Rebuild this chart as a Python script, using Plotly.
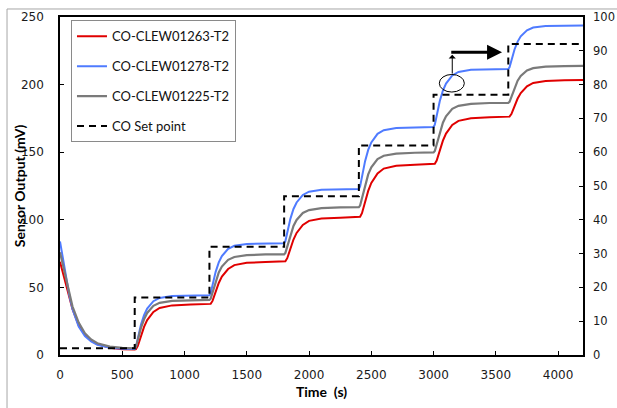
import plotly.graph_objects as go

# ---------------- data ----------------
time_s = [0, 25, 50, 75, 100, 150, 200, 250, 300, 400, 500, 600,
          610, 625, 650, 675, 700, 750, 800, 900, 1050, 1200,
          1210, 1225, 1250, 1275, 1300, 1350, 1400, 1500, 1650, 1800,
          1810, 1825, 1850, 1875, 1900, 1950, 2000, 2100, 2250, 2400,
          2410, 2425, 2450, 2475, 2500, 2550, 2600, 2700, 2850, 3000,
          3010, 3025, 3050, 3075, 3100, 3150, 3200, 3300, 3450, 3600,
          3610, 3625, 3650, 3675, 3700, 3750, 3800, 3900, 4050, 4200]

red_mv = [69, 60, 51, 42, 34, 22, 15, 10.5, 8, 5.3, 4.3, 4.0,
          4.3, 6.7, 14.1, 20.8, 25.8, 31.8, 34.8, 36.7, 37.3, 37.5,
          37.8, 40.0, 47.0, 53.3, 58.0, 63.6, 66.5, 68.2, 68.8, 69.0,
          69.3, 71.6, 78.8, 85.4, 90.3, 96.2, 99.2, 101.0, 101.6, 101.8,
          102.2, 104.9, 113.6, 121.4, 127.3, 134.3, 137.9, 140.0, 140.8, 141.0,
          141.4, 143.8, 151.5, 158.5, 163.8, 170.1, 173.2, 175.1, 175.8, 176.0,
          176.3, 178.2, 184.2, 189.7, 193.8, 198.7, 201.2, 202.7, 203.3, 203.4]

blue_mv = [84, 70, 56, 44, 34, 21, 14, 10, 7.5, 5.3, 4.7, 4.5,
           6.1, 12.4, 22.4, 29.5, 34.3, 39.8, 42.2, 43.6, 44.1, 44.2,
           45.7, 51.9, 61.5, 68.5, 73.1, 78.5, 80.8, 82.1, 82.6, 82.7,
           84.3, 90.7, 100.7, 108.0, 112.8, 118.4, 120.8, 122.2, 122.7, 122.8,
           124.6, 132.0, 143.4, 151.7, 157.2, 163.6, 166.3, 167.9, 168.4, 168.6,
           170.3, 177.2, 187.9, 195.6, 200.8, 206.8, 209.4, 210.9, 211.3, 211.5,
           212.8, 218.0, 226.0, 231.8, 235.7, 240.2, 242.2, 243.3, 243.7, 243.8]

gray_mv = [76, 66, 55, 45, 36, 24, 16, 11.5, 8.7, 6.2, 5.3, 5.0,
           6.1, 11.1, 20.0, 26.4, 31.1, 36.4, 38.6, 40.0, 40.6, 40.7,
           41.7, 46.4, 54.9, 61.0, 65.4, 70.4, 72.5, 73.8, 74.4, 74.5,
           75.5, 80.4, 89.1, 95.4, 99.9, 105.1, 107.2, 108.6, 109.2, 109.3,
           110.5, 116.2, 126.3, 133.6, 138.9, 144.9, 147.4, 149.0, 149.6, 149.8,
           150.9, 156.0, 165.2, 171.8, 176.6, 182.1, 184.3, 185.8, 186.4, 186.5,
           187.3, 191.1, 198.0, 202.9, 206.4, 210.5, 212.2, 213.3, 213.7, 213.8]

setpoint_t = [0, 600, 1200, 1800, 2400, 3000, 3600, 4200]
setpoint_ppm = [2, 17, 32, 47, 62, 77, 92, 92]

series_names = ["CO-CLEW01263-T2", "CO-CLEW01278-T2", "CO-CLEW01225-T2", "CO Set point"]
x_ticks = [0, 500, 1000, 1500, 2000, 2500, 3000, 3500, 4000]
y_ticks = [0, 50, 100, 150, 200, 250]
y2_ticks = [0, 10, 20, 30, 40, 50, 60, 70, 80, 90, 100]

# ---------------- figure ----------------
TICK_FONT = dict(family="DejaVu Sans", size=12, color="#1a1a1a")
LEG_FONT = dict(family="Lato", size=13, color="#111111")

fig = go.Figure()
fig.add_trace(go.Scatter(x=time_s, y=red_mv, name=series_names[0], mode="lines",
                         line=dict(color="#e00000", width=2), legendgroup="a"))
fig.add_trace(go.Scatter(x=time_s, y=blue_mv, name=series_names[1], mode="lines",
                         line=dict(color="#4f7bff", width=2), legendgroup="b"))
fig.add_trace(go.Scatter(x=time_s, y=gray_mv, name=series_names[2], mode="lines",
                         line=dict(color="#7a7a7a", width=2.2), legendgroup="c"))
fig.add_trace(go.Scatter(x=setpoint_t, y=setpoint_ppm, name=series_names[3], mode="lines",
                         line=dict(color="black", width=2, dash="7px,5px", shape="hv"),
                         yaxis="y2", legendgroup="d"))

axis_common = dict(showgrid=False, zeroline=False, showline=True, linecolor="black",
                   linewidth=1.5, ticks="inside", ticklen=4, tickcolor="black",
                   automargin=False)

fig.update_layout(
    width=617, height=408,
    margin=dict(l=60, r=34, t=17, b=53),
    paper_bgcolor="white", plot_bgcolor="white",
    xaxis=dict(range=[0, 4200], tickvals=x_ticks, mirror=True,
               ticklabelstandoff=8, tickfont=TICK_FONT,
               title=dict(text="Time\u00a0\u00a0(s)",
                          font=dict(family="Lato", size=14, color="black", weight="bold"),
                          standoff=6),
               **axis_common),
    yaxis=dict(range=[0, 250], tickvals=y_ticks, ticklabelstandoff=12,
               tickfont=TICK_FONT, **axis_common),
    yaxis2=dict(range=[0, 100], tickvals=y2_ticks, overlaying="y", side="right",
                ticklabelstandoff=6,
                tickfont=dict(family="DejaVu Sans", size=11.5, color="#1a1a1a"),
                **axis_common),
    showlegend=True,
    legend=dict(x=0.021, y=0.99, xanchor="left", yanchor="top",
                bgcolor="white", bordercolor="#8a8a8a", borderwidth=1,
                font=LEG_FONT, tracegroupgap=10, traceorder="grouped",
                itemwidth=30, entrywidth=170),
    annotations=[
        dict(text="<b>Sensor Output (mV)</b>", xref="paper", yref="paper",
             x=-0.078, y=0.50, xanchor="center", yanchor="middle", textangle=-90,
             showarrow=False, font=dict(family="Lato", size=14, color="black")),
        # thin arrow from the circle upward
        dict(x=3150, y=222, ax=3150, ay=207, xref="x", yref="y", axref="x", ayref="y",
             text="", showarrow=True, arrowhead=1, arrowsize=1.2, arrowwidth=1,
             arrowcolor="black"),
        # thick horizontal arrow
        dict(x=3550, y=224, ax=3130, ay=224, xref="x", yref="y", axref="x", ayref="y",
             text="", showarrow=True, arrowhead=2, arrowsize=1, arrowwidth=3,
             arrowcolor="black"),
    ],
    shapes=[
        dict(type="circle", xref="x", yref="y", x0=3046, x1=3247, y0=194.5, y1=207.5,
             line=dict(color="black", width=1)),
        # outer frame (top and left edges)
        dict(type="line", xref="paper", yref="paper", x0=-0.1013, x1=1.08, y0=1.0237, y1=1.0237,
             line=dict(color="#a6a6a6", width=1)),
        dict(type="line", xref="paper", yref="paper", x0=-0.1013, x1=-0.1013, y0=1.0237, y1=-0.2,
             line=dict(color="#a6a6a6", width=1)),
    ],
)

fig.write_html("out.html")
